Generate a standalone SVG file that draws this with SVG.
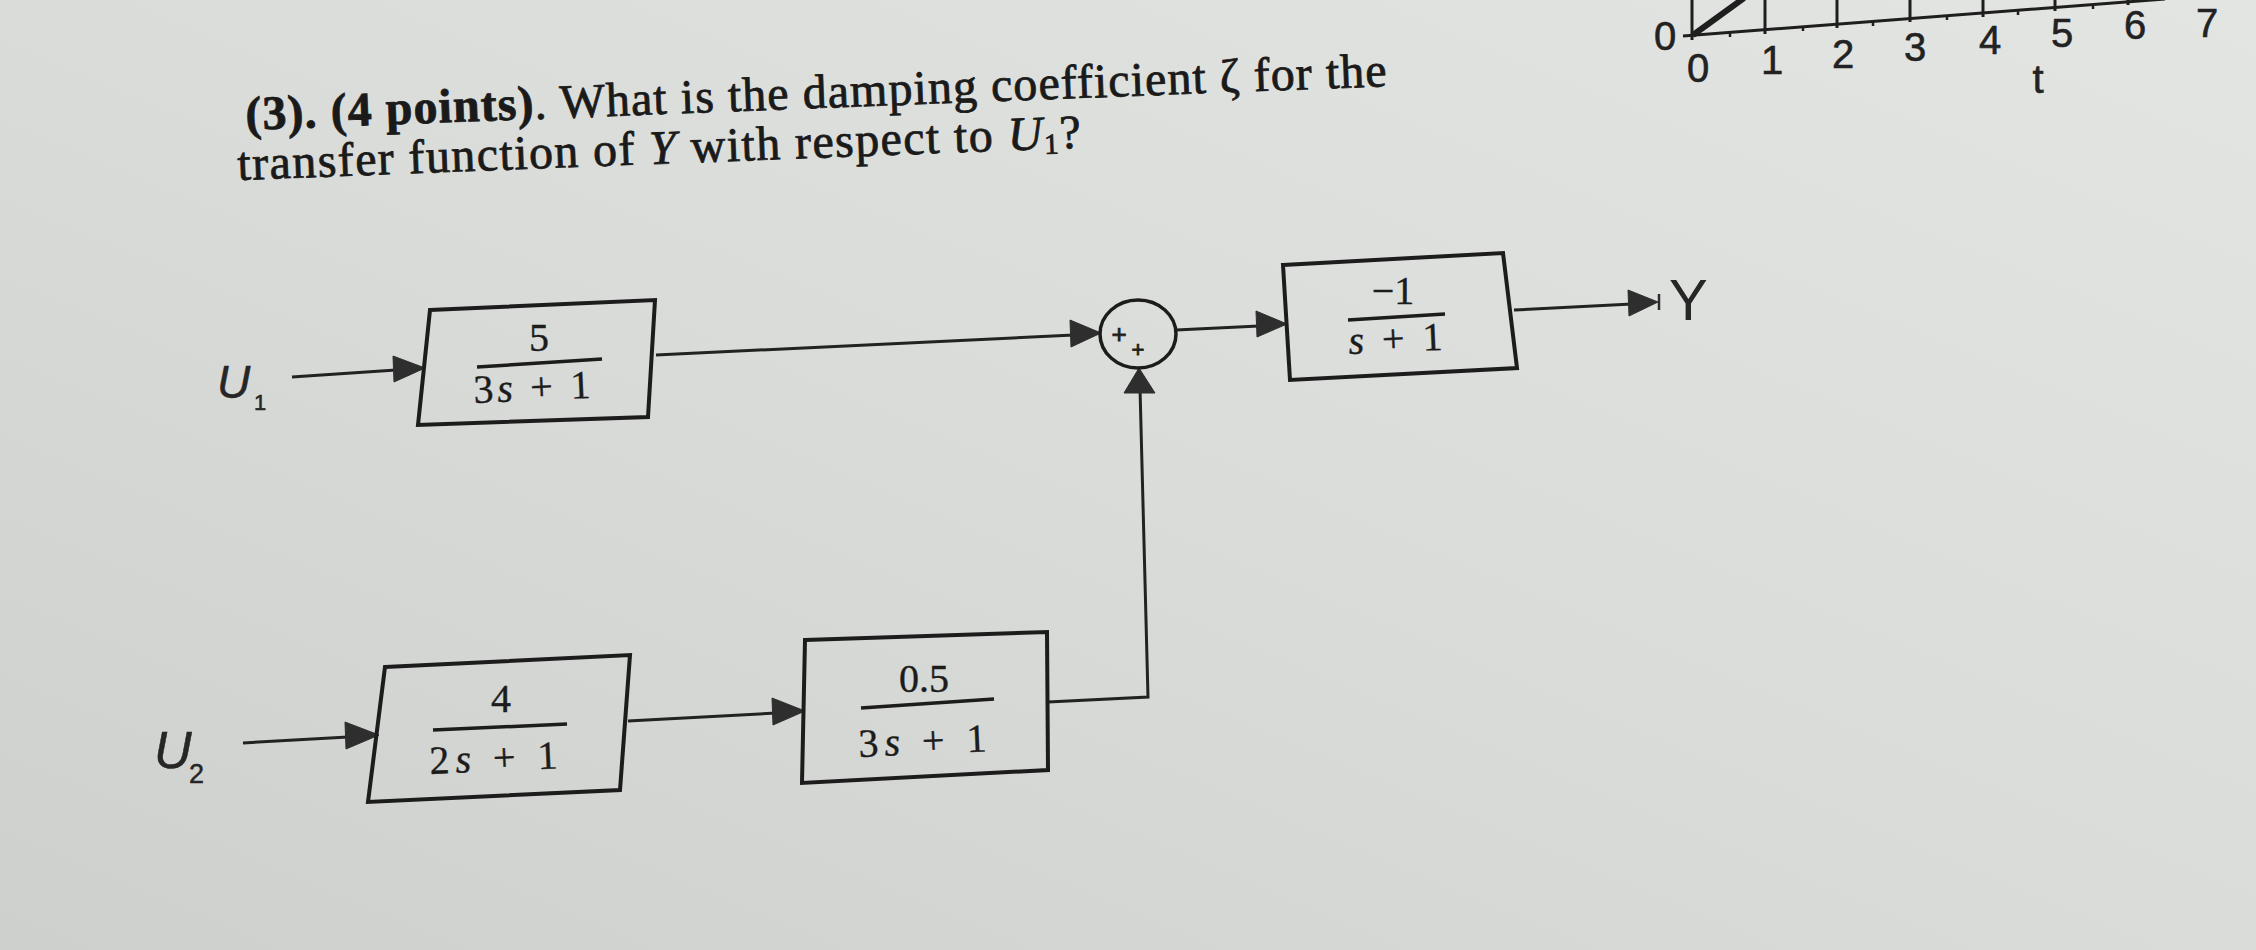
<svg xmlns="http://www.w3.org/2000/svg" width="2256" height="950" viewBox="0 0 2256 950">
  <defs>
    <linearGradient id="paper" x1="1" y1="0" x2="0" y2="1">
      <stop offset="0" stop-color="#e3e5e2"/>
      <stop offset="0.5" stop-color="#d9dcd8"/>
      <stop offset="1" stop-color="#cdd0cc"/>
    </linearGradient>
    <style>
      .q { font-family: "Liberation Serif", "DejaVu Serif", serif; font-size: 48px; fill: #1a1a1a; stroke: #1a1a1a; stroke-width: 0.8; }
      .b { font-weight: bold; }
      .it { font-style: italic; }
      .box { fill: none; stroke: #1c1c1c; stroke-width: 4; stroke-linejoin: miter; }
      .wire { fill: none; stroke: #222; stroke-width: 3; }
      .head { fill: #2e2e2e; stroke: #2e2e2e; stroke-width: 1; stroke-linejoin: round; }
      .bar { stroke: #1c1c1c; stroke-width: 3.5; }
      .frac { font-family: "Liberation Serif", "DejaVu Serif", serif; font-size: 40px; fill: #1c1c1c; stroke: #1c1c1c; stroke-width: 0.4; }
      .lbl { font-family: "Liberation Sans", Arial, sans-serif; fill: #262626; }
      .ax { font-family: "Liberation Sans", Arial, sans-serif; font-size: 40px; fill: #222; stroke: #222; stroke-width: 0.6; text-anchor: middle; }
      .plot { fill: none; stroke: #1e1e1e; stroke-width: 3; }
      .pl { font-family: "Liberation Sans", Arial, sans-serif; fill: #1c1c1c; stroke: #1c1c1c; stroke-width: 0.8; text-anchor: middle; }
    </style>
  </defs>
  <rect x="0" y="0" width="2256" height="950" fill="url(#paper)"/>

  <!-- question text -->
  <g id="question">
    <text class="q" x="246" y="130" transform="rotate(-2.2 246 130)" textLength="1142" lengthAdjust="spacing"><tspan class="b">(3). (4 points)</tspan>. What is the damping coefficient ζ for the</text>
    <text class="q" x="238" y="180" transform="rotate(-2.2 238 180)" textLength="844" lengthAdjust="spacing">transfer function of <tspan class="it">Y</tspan> with respect to <tspan class="it">U</tspan><tspan font-size="29" dy="5">1</tspan><tspan dy="-5">?</tspan></text>
  </g>

  <!-- partial plot at top right -->
  <g id="plot">
    <line class="plot" x1="1692" y1="0" x2="1692" y2="40"/>
    <line class="plot" x1="1683" y1="36" x2="2165" y2="-1"/>
    <line x1="1693" y1="35" x2="1744" y2="-2" stroke="#1e1e1e" stroke-width="6"/>
    <g class="plot">
      <line x1="1765" y1="0" x2="1765" y2="34"/>
      <line x1="1837" y1="0" x2="1837" y2="28"/>
      <line x1="1910" y1="0" x2="1910" y2="22"/>
      <line x1="1983" y1="0" x2="1983" y2="17"/>
      <line x1="2055" y1="0" x2="2055" y2="11"/>
      <line x1="2128" y1="0" x2="2128" y2="5"/>
      <line x1="1730" y1="32" x2="1730" y2="37" stroke-width="2.5"/>
      <line x1="1803" y1="27" x2="1803" y2="31" stroke-width="2.5"/>
      <line x1="1873" y1="21" x2="1873" y2="26" stroke-width="2.5"/>
      <line x1="1947" y1="15" x2="1947" y2="20" stroke-width="2.5"/>
      <line x1="2018" y1="10" x2="2018" y2="15" stroke-width="2.5"/>
      <line x1="2093" y1="4" x2="2093" y2="9" stroke-width="2.5"/>
    </g>
    <text class="ax" x="1665" y="50">0</text>
    <text class="ax" x="1698" y="82">0</text>
    <text class="ax" x="1772" y="74">1</text>
    <text class="ax" x="1843" y="68">2</text>
    <text class="ax" x="1915" y="61">3</text>
    <text class="ax" x="1990" y="54">4</text>
    <text class="ax" x="2062" y="47">5</text>
    <text class="ax" x="2135" y="39">6</text>
    <text class="ax" x="2207" y="37">7</text>
    <text class="ax" x="2038" y="93">t</text>
  </g>

  <!-- connectors -->
  <g id="connectors">
    <line class="wire" x1="292" y1="377" x2="396" y2="370"/>
    <polygon class="head" points="425,368 393,356 394,382"/>
    <line class="wire" x1="656" y1="355" x2="1074" y2="335"/>
    <polygon class="head" points="1101,333 1070,320 1071,347"/>
    <line class="wire" x1="243" y1="743" x2="348" y2="737"/>
    <polygon class="head" points="379,735 345,722 346,749"/>
    <line class="wire" x1="628" y1="721" x2="776" y2="713"/>
    <polygon class="head" points="805,711 772,698 773,725"/>
    <polyline class="wire" points="1048,702 1148,697 1140,388"/>
    <polygon class="head" points="1139,368 1124,393 1155,393"/>
    <line class="wire" x1="1176" y1="330" x2="1259" y2="326"/>
    <polygon class="head" points="1287,324 1256,311 1257,337"/>
    <line class="wire" x1="1514" y1="310" x2="1632" y2="304"/>
    <polygon class="head" points="1658,302 1628,290 1629,316"/>
    <line x1="1659" y1="294" x2="1659" y2="310" stroke="#2e2e2e" stroke-width="2.5"/>
  </g>

  <!-- input labels -->
  <g id="u1">
    <text class="lbl" x="217" y="398" font-size="46" font-style="italic" stroke="#262626" stroke-width="0.5">U</text>
    <text class="lbl" x="254" y="410" font-size="22" stroke="#262626" stroke-width="0.5">1</text>
  </g>
  <g id="u2">
    <text class="lbl" x="154" y="768" font-size="52" font-style="italic" stroke="#262626" stroke-width="0.5">U</text>
    <text class="lbl" x="189" y="783" font-size="27" stroke="#262626" stroke-width="0.5">2</text>
  </g>

  <!-- block G1 -->
  <g id="block-g1">
    <polygon class="box" points="430,310 655,300 648,417 418,425"/>
    <text class="frac" x="539" y="351" text-anchor="middle">5</text>
    <line class="bar" x1="477" y1="367" x2="602" y2="359"/>
    <text class="frac" x="474" y="403" textLength="117" lengthAdjust="spacing" transform="rotate(-2.5 474 403)">3<tspan class="it">s</tspan> + 1</text>
  </g>

  <!-- block G2 -->
  <g id="block-g2">
    <polygon class="box" points="385,667 630,655 620,790 368,802"/>
    <text class="frac" x="501" y="712" text-anchor="middle">4</text>
    <line class="bar" x1="433" y1="730" x2="567" y2="724"/>
    <text class="frac" x="430" y="774" textLength="128" lengthAdjust="spacing" transform="rotate(-2.5 430 774)">2<tspan class="it">s</tspan> + 1</text>
  </g>

  <!-- block G3 -->
  <g id="block-g3">
    <polygon class="box" points="805,640 1047,632 1048,770 802,783"/>
    <text class="frac" x="924" y="692" text-anchor="middle">0.5</text>
    <line class="bar" x1="861" y1="708" x2="994" y2="699"/>
    <text class="frac" x="859" y="757" textLength="128" lengthAdjust="spacing" transform="rotate(-2.5 859 757)">3<tspan class="it">s</tspan> + 1</text>
  </g>

  <!-- summing junction -->
  <g id="sum">
    <ellipse cx="1138" cy="334" rx="38" ry="34" fill="none" stroke="#1c1c1c" stroke-width="3.5"/>
    <text class="pl" x="1119" y="343" font-size="26">+</text>
    <text class="pl" x="1138" y="357" font-size="22">+</text>
  </g>

  <!-- block G4 -->
  <g id="block-g4">
    <polygon class="box" points="1283,265 1503,253 1517,368 1290,380"/>
    <text class="frac" x="1393" y="304" text-anchor="middle">−1</text>
    <line class="bar" x1="1348" y1="320" x2="1445" y2="314"/>
    <text class="frac" x="1349" y="354" textLength="94" lengthAdjust="spacing" transform="rotate(-2.5 1349 354)"><tspan class="it">s</tspan> + 1</text>
  </g>

  <!-- output label -->
  <g id="y-out">
    <text class="lbl" x="1669" y="320" font-size="58" fill="#333">Y</text>
  </g>
</svg>
